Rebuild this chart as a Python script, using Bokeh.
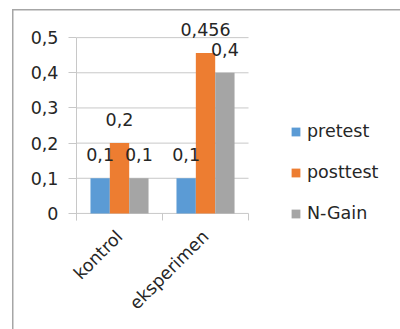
from bokeh.plotting import figure
from bokeh.models import (ColumnDataSource, Range1d, Legend, LegendItem, CustomJSTickFormatter,
                          LabelSet, FixedTicker)
from bokeh.core.properties import value
from bokeh.embed import file_html
from bokeh.resources import INLINE

categories = ["kontrol", "eksperimen"]
pretest = [0.1, 0.1]
posttest = [0.2, 0.456]
ngain = [0.1, 0.4]
series_names = ["pretest", "posttest", "N-Gain"]
colors = ["#5B9BD5", "#ED7D31", "#A5A5A5"]
y_ticks = [0, 0.1, 0.2, 0.3, 0.4, 0.5]

FONT = "DejaVu Sans"
FSIZE = "17.5px"
TEXT = "#262626"
GRID = "#C8C8C8"


def fmt(v):
    return ("%g" % v).replace(".", ",")


n = len(categories)
centers = [i + 0.5 for i in range(n)]
bw = 0.225
offsets = [-bw, 0.0, bw]

# plot area spans the legend region too; categories occupy x in [0, n]
p = figure(width=400, height=329, x_range=Range1d(0, 3.767), y_range=Range1d(-0.04, 0.58),
           output_backend="svg", toolbar_location=None,
           min_border_left=76, min_border_right=0, min_border_top=9, min_border_bottom=102)
p.outline_line_color = None
p.background_fill_color = None
p.border_fill_color = None
# chart-area frame line on the left and top edges
p.styles = {"box-shadow": "inset 12px 9px 0 0 white, inset 13.5px 10.5px 0 0 #A6A6A6"}

# horizontal gridlines across the category area
p.segment(x0=[0] * len(y_ticks), x1=[n] * len(y_ticks), y0=y_ticks, y1=y_ticks,
          line_color=GRID, line_width=1)
# category separator ticks under the baseline
p.segment(x0=list(range(n + 1)), x1=list(range(n + 1)), y0=[0] * (n + 1), y1=[-0.02] * (n + 1),
          line_color=GRID, line_width=1)

renderers = []
for vals, off, c in zip([pretest, posttest, ngain], offsets, colors):
    src = ColumnDataSource(dict(x=[x + off for x in centers], top=vals,
                                lbl=[fmt(v) for v in vals]))
    r = p.vbar(x="x", top="top", bottom=0, width=bw, source=src, fill_color=c, line_color=None)
    renderers.append(r)
    p.add_layout(LabelSet(x="x", y="top", text="lbl", source=src, text_align="center",
                          text_baseline="alphabetic", y_offset=17, text_font=value(FONT),
                          text_font_size=FSIZE, text_color=TEXT))

# y axis
p.yaxis.ticker = FixedTicker(ticks=y_ticks)
p.yaxis.bounds = (-0.02, 0.5)
p.yaxis.formatter = CustomJSTickFormatter(
    code="return tick == 0 ? '0' : tick.toFixed(1).replace('.', ',');")
p.yaxis.major_label_text_font = FONT
p.yaxis.major_label_text_font_size = FSIZE
p.yaxis.major_label_text_color = TEXT
p.yaxis.axis_line_color = GRID
p.yaxis.major_tick_line_color = GRID
p.yaxis.major_tick_in = 0
p.yaxis.major_tick_out = 8
p.yaxis.minor_tick_line_color = None
p.yaxis.major_label_standoff = 10

# x axis: category names at the group centres
p.xaxis.ticker = FixedTicker(ticks=centers)
p.xaxis.major_label_overrides = {c: name for c, name in zip(centers, categories)}
p.xaxis.major_label_orientation = 0.785
p.xaxis.major_label_text_font = FONT
p.xaxis.major_label_text_font_size = FSIZE
p.xaxis.major_label_text_color = TEXT
p.xaxis.axis_line_color = None
p.xaxis.major_tick_line_color = None
p.xaxis.minor_tick_line_color = None
p.xaxis.major_label_standoff = 0

p.xgrid.grid_line_color = None
p.ygrid.grid_line_color = None

legend = Legend(items=[LegendItem(label=s, renderers=[r]) for s, r in zip(series_names, renderers)],
                location=(214, 4), border_line_color=None, background_fill_alpha=0,
                label_text_font=FONT, label_text_font_size=FSIZE, label_text_color=TEXT,
                glyph_width=11, glyph_height=11, label_height=14, spacing=21,
                label_standoff=6, padding=0, margin=0)
p.add_layout(legend, "center")

open("out.html", "w").write(file_html(p, INLINE))
